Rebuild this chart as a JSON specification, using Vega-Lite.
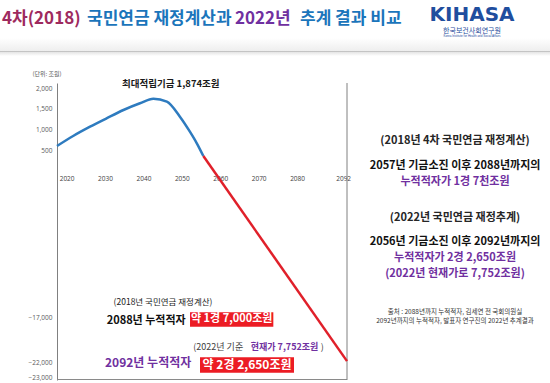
{
  "$schema": "https://vega.github.io/schema/vega-lite/v6.json",
  "width": 290,
  "height": 297,
  "autosize": {"type": "none"},
  "padding": {"left": 57, "top": 83, "right": 203, "bottom": 3},
  "background": "#ffffff",
  "config": {"view": {"stroke": null}, "font": "Noto Sans CJK KR", "text": {"font": "Noto Sans CJK KR"}},
  "encoding": {
    "x": {"field": "year", "type": "quantitative",
      "scale": {"domain": [2017.5, 2093], "nice": false, "zero": false},
      "axis": {"values": [2020, 2030, 2040, 2050, 2060, 2070, 2080, 2092], "labelExpr": "format(datum.value, 'd')", "title": null, "orient": "bottom", "offset": -210, "domain": false, "ticks": false, "tickSize": 0, "grid": false, "labelPadding": 5, "labelFontSize": 6.5, "labelColor": "#404040", "labelFont": "Open Sans"}},
    "y": {"field": "value", "type": "quantitative",
      "scale": {"domain": [-23200, -23000, -22000, -17000, 0, 500, 2000, 2121], "range": [297, 294, 279, 234, 73, 67, 5, 0], "nice": false, "zero": false, "clamp": false},
      "axis": {"values": [2000, 1500, 1000, 500, -17000, -22000, -23000], "labelExpr": "format(datum.value, ',')", "title": null, "ticks": false, "tickSize": 0, "grid": false, "domainColor": "#808080", "domainWidth": 1, "labelPadding": 5, "labelFontSize": 6.5, "labelColor": "#595959", "labelFont": "Open Sans"}}
  },
  "layer": [
    {"data": {"values": [{"year": 2002.66, "year2": 2145.85, "value": 3210, "value2": 2895}]},
      "mark": {"type": "rect", "fill": {"gradient": "linear", "x1": 0, "y1": 0, "x2": 0, "y2": 1, "stops": [{"offset": 0, "color": "#ffffff"}, {"offset": 1, "color": "#eeeeee"}]}},
      "encoding": {"x2": {"field": "year2"}, "y2": {"field": "value2"}}},
    {"data": {"values": [{"year": 2002.66, "year2": 2145.85, "value": 2871, "value2": 2774}]},
      "mark": {"type": "rect", "fill": {"gradient": "linear", "x1": 0, "y1": 0, "x2": 0, "y2": 1, "stops": [{"offset": 0, "color": "#e4e4e4"}, {"offset": 1, "color": "#ffffff"}]}},
      "encoding": {"x2": {"field": "year2"}, "y2": {"field": "value2"}}},
    {"data": {"values": [{"year": 2002.66, "year2": 2145.85, "value": 2895, "value2": 2871}]},
      "mark": {"type": "rect", "fill": "#c4c4c4"},
      "encoding": {"x2": {"field": "year2"}, "y2": {"field": "value2"}}},
    {"data": {"values": [
      {"year": 2017.5, "year2": 2093, "value": 5, "value2": -5},
      {"year": 2017.5, "year2": 2093, "value": -23133, "value2": -23200}
    ]},
      "mark": {"type": "rect", "fill": "#8a8a8a"},
      "encoding": {"x2": {"field": "year2"}, "y2": {"field": "value2"}}},
    {"data": {"values": [{"year": 2093, "value": -23200, "value2": 2121}]},
      "mark": {"type": "rule", "color": "#808080", "strokeWidth": 1},
      "encoding": {"y2": {"field": "value2"}}},
    {"data": {"values": [
      {"year": 2017.5, "value": 597, "series": "적립기금"},
      {"year": 2021.7, "value": 839, "series": "적립기금"},
      {"year": 2026.1, "value": 1064, "series": "적립기금"},
      {"year": 2030.4, "value": 1267, "series": "적립기금"},
      {"year": 2034.8, "value": 1468, "series": "적립기금"},
      {"year": 2039.1, "value": 1630, "series": "적립기금"},
      {"year": 2042.6, "value": 1741, "series": "적립기금"},
      {"year": 2046.1, "value": 1669, "series": "적립기금"},
      {"year": 2049.5, "value": 1306, "series": "적립기금"},
      {"year": 2052.1, "value": 943, "series": "적립기금"},
      {"year": 2053.9, "value": 662, "series": "적립기금"},
      {"year": 2055.6, "value": 0, "series": "적립기금"},
      {"year": 2055.6, "value": 0, "series": "누적적자"},
      {"year": 2093, "value": -21900, "series": "누적적자"}
    ]},
      "mark": {"type": "line", "strokeWidth": 2.5, "interpolate": "monotone"},
      "encoding": {"color": {"field": "series", "type": "nominal", "scale": {"domain": ["적립기금", "누적적자"], "range": ["#2e7bbf", "#e0202a"]}, "legend": null}}},
    {"data": {"values": [
      {"year": 2052.13, "year2": 2073.82, "value": -16505, "value2": -18078},
      {"year": 2054.73, "year2": 2079.2, "value": -21478, "value2": -22713}
    ]},
      "mark": {"type": "rect", "color": "#ec1c24"},
      "encoding": {"x2": {"field": "year2"}, "y2": {"field": "value2"}}},
    {"data": {"values": [{"year": 2003.18, "value": 3670, "t": "4차(2018)"}]},
      "mark": {"type": "text", "align": "left", "baseline": "middle", "fontSize": 17, "fontWeight": "bold", "color": "#9e2a5e"},
      "encoding": {"text": {"field": "t"}}},
    {"data": {"values": [{"year": 2025.31, "value": 3670, "t": "국민연금 재정계산과"}, {"year": 2080.76, "value": 3670, "t": "추계 결과 비교"}]},
      "mark": {"type": "text", "align": "left", "baseline": "middle", "fontSize": 17, "fontWeight": "bold", "color": "#1b75bb"},
      "encoding": {"text": {"field": "t"}}},
    {"data": {"values": [{"year": 2063.84, "value": 3670, "t": "2022년"}]},
      "mark": {"type": "text", "align": "left", "baseline": "middle", "fontSize": 17, "fontWeight": "bold", "color": "#7030a0"},
      "encoding": {"text": {"field": "t"}}},
    {"data": {"values": [{"year": 2125.54, "value": 3767, "t": "KIHASA"}]},
      "mark": {"type": "text", "align": "center", "baseline": "middle", "fontSize": 20, "fontWeight": "bold", "color": "#1f4e9e", "font": "DejaVu Sans"},
      "encoding": {"text": {"field": "t"}}},
    {"data": {"values": [{"year": 2125.54, "value": 3379, "t": "한국보건사회연구원"}]},
      "mark": {"type": "text", "align": "center", "baseline": "middle", "fontSize": 7, "color": "#1f4e9e"},
      "encoding": {"text": {"field": "t"}}},
    {"data": {"values": [{"year": 2125.54, "value": 3258, "t": "Korea Institute for Health and Social Affairs"}]},
      "mark": {"type": "text", "align": "center", "baseline": "middle", "fontSize": 3, "color": "#1f4e9e", "font": "Liberation Sans"},
      "encoding": {"text": {"field": "t"}}},
    {"data": {"values": [{"year": 2014.9, "value": 2339, "t": "(단위: 조원)"}]},
      "mark": {"type": "text", "align": "center", "baseline": "middle", "fontSize": 6, "color": "#595959"},
      "encoding": {"text": {"field": "t"}}},
    {"data": {"values": [{"year": 2047.13, "value": 2097, "t": "최대적립기금 1,874조원"}]},
      "mark": {"type": "text", "align": "center", "baseline": "middle", "fontSize": 9.5, "fontWeight": "bold", "color": "#1a1a1a"},
      "encoding": {"text": {"field": "t"}}},
    {"data": {"values": [{"year": 2045.1, "value": -15386, "t": "(2018년 국민연금 재정계산)"}]},
      "mark": {"type": "text", "align": "center", "baseline": "middle", "fontSize": 8.5, "color": "#1a1a1a"},
      "encoding": {"text": {"field": "t"}}},
    {"data": {"values": [{"year": 2030.43, "value": -17411, "t": "2088년 누적적자"}]},
      "mark": {"type": "text", "align": "left", "baseline": "middle", "fontSize": 11, "fontWeight": "bold", "color": "#111111"},
      "encoding": {"text": {"field": "t"}}},
    {"data": {"values": [{"year": 2062.98, "value": -17277, "t": "약 1경 7,000조원"}]},
      "mark": {"type": "text", "align": "center", "baseline": "middle", "fontSize": 11, "fontWeight": "bold", "color": "#ffffff"},
      "encoding": {"text": {"field": "t"}}},
    {"data": {"values": [{"year": 2052.98, "value": -20300, "t": "(2022년 기준"}, {"year": 2086.15, "value": -20300, "t": ")"}]},
      "mark": {"type": "text", "align": "left", "baseline": "middle", "fontSize": 9, "color": "#404040"},
      "encoding": {"text": {"field": "t"}}},
    {"data": {"values": [{"year": 2067.93, "value": -20300, "t": "현재가 7,752조원"}]},
      "mark": {"type": "text", "align": "left", "baseline": "middle", "fontSize": 9, "fontWeight": "bold", "color": "#7030a0"},
      "encoding": {"text": {"field": "t"}}},
    {"data": {"values": [{"year": 2030.0, "value": -22087, "t": "2092년 누적적자"}]},
      "mark": {"type": "text", "align": "left", "baseline": "middle", "fontSize": 12, "fontWeight": "bold", "color": "#7030a0"},
      "encoding": {"text": {"field": "t"}}},
    {"data": {"values": [{"year": 2066.97, "value": -22200, "t": "약 2경 2,650조원"}]},
      "mark": {"type": "text", "align": "center", "baseline": "middle", "fontSize": 12, "fontWeight": "bold", "color": "#ffffff"},
      "encoding": {"text": {"field": "t"}}},
    {"data": {"values": [{"year": 2121.12, "value": 725, "t": "(2018년 4차 국민연금 재정계산)"}, {"year": 2121.12, "value": -6579, "t": "(2022년 국민연금 재정추계)"}]},
      "mark": {"type": "text", "align": "center", "baseline": "middle", "fontSize": 11, "fontWeight": "bold", "color": "#262626"},
      "encoding": {"text": {"field": "t"}}},
    {"data": {"values": [{"year": 2121.12, "value": -1056, "t": "2057년 기금소진 이후 2088년까지의"}, {"year": 2121.12, "value": -9081, "t": "2056년 기금소진 이후 2092년까지의"}]},
      "mark": {"type": "text", "align": "center", "baseline": "middle", "fontSize": 11, "fontWeight": "bold", "color": "#111111"},
      "encoding": {"text": {"field": "t"}}},
    {"data": {"values": [{"year": 2121.12, "value": -2745, "t": "누적적자가 1경 7천조원"}, {"year": 2121.12, "value": -10771, "t": "누적적자가 2경 2,650조원"}, {"year": 2121.12, "value": -12460, "t": "(2022년 현재가로 7,752조원)"}]},
      "mark": {"type": "text", "align": "center", "baseline": "middle", "fontSize": 11, "fontWeight": "bold", "color": "#7030a0"},
      "encoding": {"text": {"field": "t"}}},
    {"data": {"values": [{"year": 2121.12, "value": -16420, "t": "출처 : 2088년까지 누적적자, 김세연 전 국회의원실"}, {"year": 2121.12, "value": -17450, "t": "2092년까지의 누적적자, 발표자 연구진의 2022년 추계결과"}]},
      "mark": {"type": "text", "align": "center", "baseline": "middle", "fontSize": 6.5, "color": "#333333"},
      "encoding": {"text": {"field": "t"}}}
  ]
}
